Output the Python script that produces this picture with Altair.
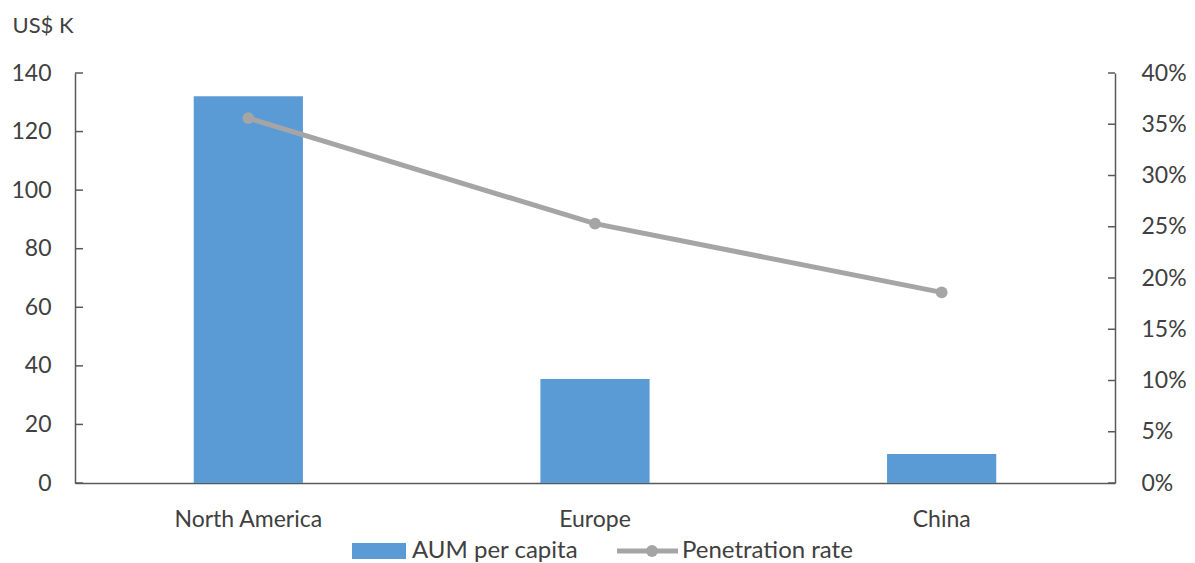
import altair as alt
import pandas as pd

regions = ["North America", "Europe", "China"]
aum_per_capita = [132.1, 35.5, 9.9]
penetration_rate = [0.356, 0.253, 0.186]
left_ticks = [0, 20, 40, 60, 80, 100, 120, 140]
right_ticks = [0, 0.05, 0.10, 0.15, 0.20, 0.25, 0.30, 0.35, 0.40]
legend_labels = ["AUM per capita", "Penetration rate"]

BLUE = "#5B9BD5"
GRAY = "#A5A5A5"
TEXT = "#404040"
AXIS = "#595959"
FONT = "Lato"
FS = 23
W, H = 1040, 410

df = pd.DataFrame({"region": regions, "aum": aum_per_capita, "pen": penetration_rate})
lt = pd.DataFrame({"v": left_ticks})
rt = pd.DataFrame({"v": right_ticks})

xenc = alt.X("region:N", sort=regions, title=None,
             scale=alt.Scale(paddingInner=0.685, paddingOuter=0.3425),
             axis=alt.Axis(labelAngle=0, ticks=False, labelFontSize=FS, labelColor=TEXT,
                           labelFont=FONT, labelPadding=25, domainColor=AXIS, domainWidth=1.5))

yl_scale = alt.Scale(domain=[0, 140], nice=False)
yr_scale = alt.Scale(domain=[0, 0.4], nice=False)

left_axis = alt.Axis(values=left_ticks, ticks=False, grid=False, domainColor=AXIS,
                     domainWidth=1.5, labelFontSize=FS, labelColor=TEXT, labelFont=FONT,
                     labelPadding=24, title="US$ K", titleAngle=0, titleFontSize=22,
                     titleFont=FONT, titleFontWeight="normal", titleColor=TEXT,
                     titleX=-63, titleY=-48, titleAlign="left", titleBaseline="middle")
right_axis = alt.Axis(orient="right", values=right_ticks, format=".0%", ticks=False,
                      grid=False, domainColor=AXIS, domainWidth=1.5, labelFontSize=FS,
                      labelColor=TEXT, labelFont=FONT, labelPadding=26, title=None)

bars = alt.Chart(df).mark_bar(color=BLUE).encode(
    x=xenc,
    y=alt.Y("aum:Q", scale=yl_scale, axis=left_axis),
)
ltick = alt.Chart(lt).mark_rule(color=AXIS, strokeWidth=1.5).encode(
    y=alt.Y("v:Q", scale=yl_scale, axis=left_axis, title="US$ K"),
    x=alt.value(0), x2=alt.value(8))
left = alt.layer(bars, ltick)

line = alt.Chart(df).mark_line(color=GRAY, strokeWidth=5).encode(
    x=xenc,
    y=alt.Y("pen:Q", scale=yr_scale, axis=right_axis),
)
pts = alt.Chart(df).mark_circle(color=GRAY, size=140, opacity=1).encode(
    x=xenc, y=alt.Y("pen:Q", scale=yr_scale, axis=right_axis))
rtick = alt.Chart(rt).mark_rule(color=AXIS, strokeWidth=1.5).encode(
    y=alt.Y("v:Q", scale=yr_scale, axis=right_axis), x=alt.value(W - 7), x2=alt.value(W))
right = alt.layer(line, pts, rtick)

# manual legend
leg_rect = alt.Chart(alt.Data(values=[{"l": legend_labels[0]}])).mark_rect(color=BLUE).encode(
    x=alt.value(277), x2=alt.value(331), y=alt.value(470), y2=alt.value(486))
leg_t1 = alt.Chart(alt.Data(values=[{"l": legend_labels[0]}])).mark_text(
    align="left", baseline="middle", fontSize=24, font=FONT, color=TEXT).encode(
    x=alt.value(337), y=alt.value(478), text="l:N")
leg_line = alt.Chart(alt.Data(values=[{"l": legend_labels[1]}])).mark_rule(
    color=GRAY, strokeWidth=5).encode(x=alt.value(542), x2=alt.value(603), y=alt.value(478))
leg_pt = alt.Chart(alt.Data(values=[{"l": legend_labels[1]}])).mark_circle(
    color=GRAY, size=140, opacity=1).encode(x=alt.value(577), y=alt.value(478))
leg_t2 = alt.Chart(alt.Data(values=[{"l": legend_labels[1]}])).mark_text(
    align="left", baseline="middle", fontSize=24, font=FONT, color=TEXT).encode(
    x=alt.value(607), y=alt.value(478), text="l:N")

chart = alt.layer(left, right, leg_rect, leg_t1, leg_line, leg_pt, leg_t2).resolve_scale(
    y="independent").properties(
    width=W, height=H,
    background="white",
    autosize=alt.AutoSizeParams(type="none"),
    padding={"left": 75, "top": 73, "right": 80, "bottom": 80},
).configure_view(stroke="transparent", strokeWidth=0)

chart.save("out.html", embed_options={"renderer": "svg", "actions": False})
